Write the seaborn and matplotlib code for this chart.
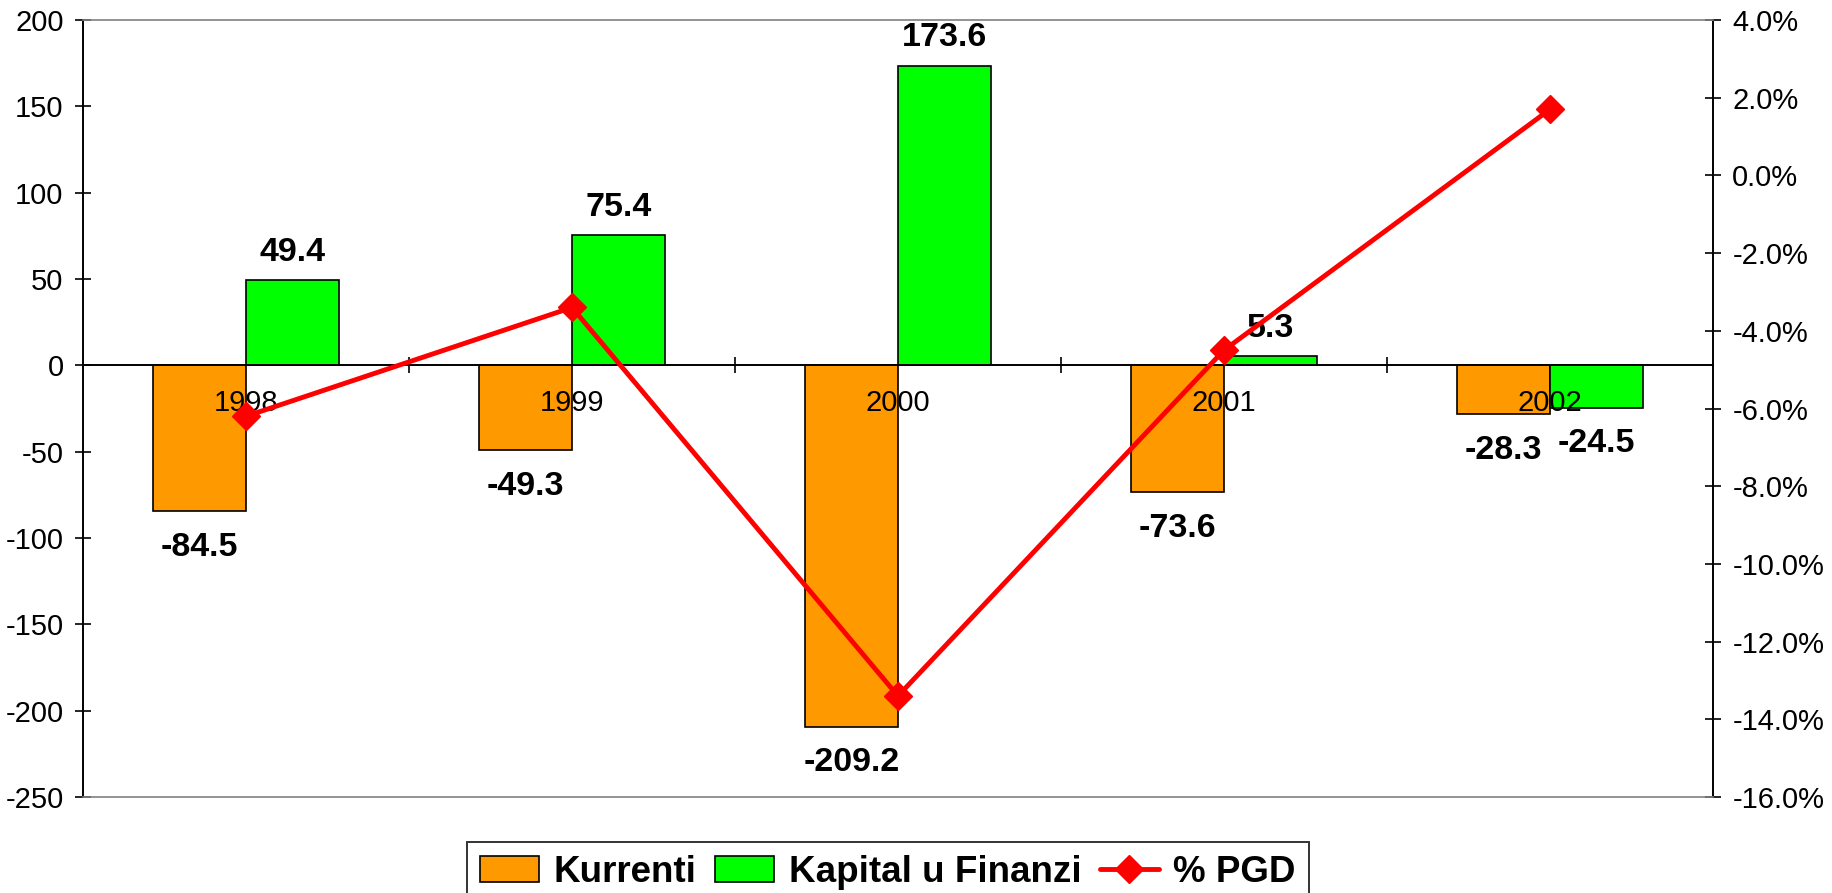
import pandas as pd
import matplotlib
matplotlib.use("Agg")
import matplotlib.pyplot as plt
import seaborn as sns
from matplotlib.ticker import FixedLocator, FuncFormatter
from matplotlib.patches import Patch
from matplotlib.lines import Line2D

# data
years = ["1998", "1999", "2000", "2001", "2002"]
kurrenti = [-84.5, -49.3, -209.2, -73.6, -28.3]
kapital = [49.4, 75.4, 173.6, 5.3, -24.5]
pgd = [-6.2, -3.4, -13.4, -4.5, 1.7]

series_names = ["Kurrenti", "Kapital u Finanzi"]
bar_colors = ["#FF9900", "#00FF00"]
line_color = "#FF0000"

rows = []
for y, k, c in zip(years, kurrenti, kapital):
    rows.append({"Year": y, "Series": series_names[0], "Value": k})
    rows.append({"Year": y, "Series": series_names[1], "Value": c})
df = pd.DataFrame(rows)
line_df = pd.DataFrame({"Year": years, "PGD": pgd})

sns.set_style("white")
plt.rcParams["font.family"] = ["Liberation Sans", "DejaVu Sans"]
plt.rcParams["axes.unicode_minus"] = False
for key in ["text.color", "axes.labelcolor", "xtick.color", "ytick.color"]:
    plt.rcParams[key] = "black"

fig = plt.figure(figsize=(18.32, 8.93), dpi=100)
ax = fig.add_axes([0.0453, 0.1075, 0.8897, 0.8701])

sns.barplot(data=df, x="Year", y="Value", hue="Series", order=years,
            hue_order=series_names, palette=bar_colors, width=0.57,
            edgecolor="black", linewidth=1.2, saturation=1, ax=ax, legend=False)

ax.set_xlim(-0.5, len(years) - 0.5)
ax.set_ylim(-250, 200)
ax.set_yticks(range(-250, 201, 50))
ax.set_xlabel("")
ax.set_ylabel("")
ax.set_axisbelow(False)

# bar value labels: above positive bars, below negative ones
for cont in ax.containers:
    vals = [b.get_height() for b in cont]
    pos_labels = [f"{v:.1f}" if v >= 0 else "" for v in vals]
    neg_labels = [f"{v:.1f}" if v < 0 else "" for v in vals]
    ax.bar_label(cont, labels=pos_labels, padding=9, fontsize=24.5,
                 fontweight="bold", color="black")
    ax.bar_label(cont, labels=neg_labels, padding=15, fontsize=24.5,
                 fontweight="bold", color="black")

# category axis sits on the zero line
ax.spines["bottom"].set_position(("data", 0))
ax.spines["bottom"].set_color("black")
ax.spines["bottom"].set_linewidth(1.4)
ax.spines["left"].set_color("black")
ax.spines["left"].set_linewidth(1.4)
ax.spines["top"].set_visible(False)
ax.spines["right"].set_visible(False)
ax.xaxis.set_minor_locator(FixedLocator([i + 0.5 for i in range(len(years) - 1)]))
ax.tick_params(axis="x", which="major", length=0, pad=17, labelsize=21)
ax.tick_params(axis="x", which="minor", direction="inout", length=12, width=1.2,
               color="black", bottom=True)
ax.tick_params(axis="y", direction="inout", length=12, width=1.2, color="black",
               left=True, pad=8, labelsize=21)

# percentage line on the secondary axis
ax2 = ax.twinx()
ax2.plot(range(len(years)), line_df["PGD"], color=line_color, linewidth=3.5,
         marker="D", markersize=14.5, label="% PGD", zorder=5)
ax2.set_ylim(-16, 4)
ax2.set_yticks(range(-16, 5, 2))
ax2.yaxis.set_major_formatter(FuncFormatter(lambda v, p: f"{v:.1f}%"))
ax2.tick_params(axis="y", direction="inout", length=12, width=1.2, color="black",
                right=True, pad=8, labelsize=21)
ax2.spines["right"].set_color("black")
ax2.spines["right"].set_linewidth(1.4)
ax2.spines["left"].set_visible(False)
for side in ["top", "bottom"]:
    ax2.spines[side].set_color("#808080")
    ax2.spines[side].set_linewidth(1.2)
ax2.grid(False)
ax.grid(False)

# legend
handles = [Patch(facecolor=bar_colors[0], edgecolor="black", linewidth=1.2),
           Patch(facecolor=bar_colors[1], edgecolor="black", linewidth=1.2),
           Line2D([0], [0], color=line_color, linewidth=3.5, marker="D", markersize=14.5)]
labels = series_names + ["% PGD"]
leg = fig.legend(handles, labels, loc="upper center", ncol=3,
                 bbox_to_anchor=(888 / 1832, 1 - 842 / 893),
                 prop={"size": 26.5, "weight": "bold"}, frameon=True, fancybox=False,
                 edgecolor="black", handlelength=1.6, handletextpad=0.4,
                 columnspacing=0.5, borderpad=0.35, borderaxespad=0)
leg.get_frame().set_linewidth(1.4)

fig.savefig("out.png", dpi=100)
